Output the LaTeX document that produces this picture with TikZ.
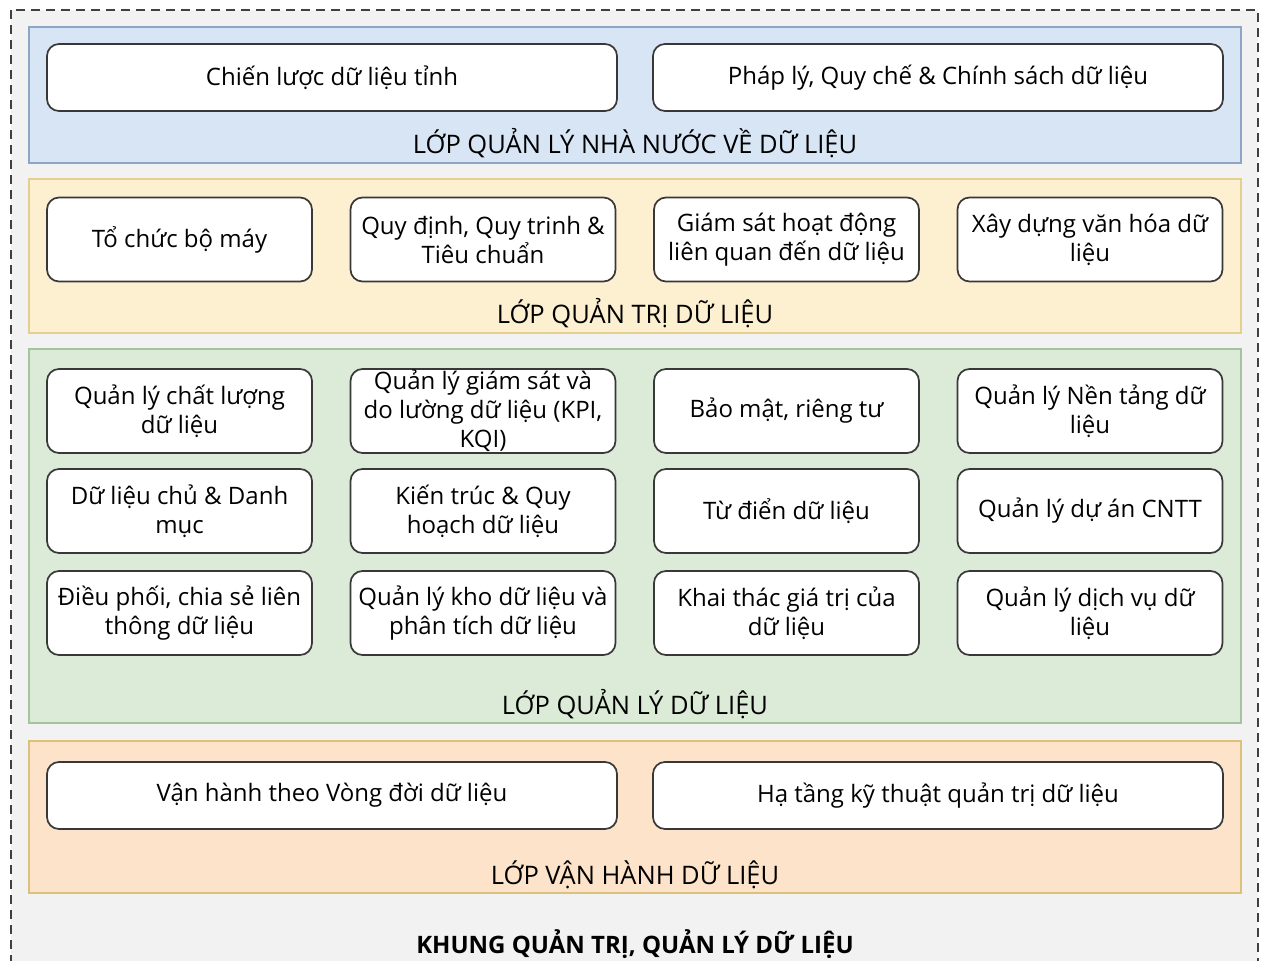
\documentclass[tikz,border=0pt]{standalone}
\usepackage{fontspec}
\setmainfont{Open Sans}
\definecolor{framebg}{HTML}{F2F2F3}
\definecolor{stateFill}{HTML}{D8E5F5}
\definecolor{stateLine}{HTML}{8EA5C4}
\definecolor{govFill}{HTML}{FDF0D0}
\definecolor{govLine}{HTML}{E6CF8E}
\definecolor{mgmtFill}{HTML}{DCEBD8}
\definecolor{mgmtLine}{HTML}{A3C49E}
\definecolor{opsFill}{HTML}{FDE3C9}
\definecolor{opsLine}{HTML}{DCC17A}
\begin{document}
\begin{tikzpicture}[x=1pt, y=-1pt,
    box/.style={draw=black!78, line width=1.7pt, fill=white, rounded corners=12pt,
        align=center, inner sep=0pt, font=\fontsize{24}{29}\selectfont},
    widebox/.style={box, minimum width=570pt, minimum height=67pt},
    cell/.style={box, minimum width=265pt, minimum height=84pt},
    layertitle/.style={font=\fontsize{25.5}{29}\selectfont, inner sep=0pt},
    layer/.style={line width=1.4pt}]
    \useasboundingbox (0,0) rectangle (1267,961);
    \fill[white] (0,0) rectangle (1267,961);
    \begin{scope}
    \clip (0,0) rectangle (1267,961);
    \filldraw[fill=framebg, draw=black!75, dashed, line width=1.8pt,
        dash pattern=on 9pt off 6pt]
        (11,10) rectangle (1258,990);
    \end{scope}
    \filldraw[layer, fill=stateFill, draw=stateLine] (29,27) rectangle (1241,163);
    \filldraw[layer, fill=govFill, draw=govLine] (29,179) rectangle (1241,333);
    \filldraw[layer, fill=mgmtFill, draw=mgmtLine] (29,349) rectangle (1241,723);
    \filldraw[layer, fill=opsFill, draw=opsLine] (29,741) rectangle (1241,893);
    % state layer
    \node[widebox] (strategy) at (332,77.5) {Chiến lược dữ liệu tỉnh};
    \node[widebox] (legal) at (938,77.5) {Pháp lý, Quy chế \& Chính sách dữ liệu};
    \node[layertitle] (stateTitle) at (635,143) {LỚP QUẢN LÝ NHÀ NƯỚC VỀ DỮ LIỆU};
    % governance layer
    \node[cell] (org) at (179.5,239.5) {Tổ chức bộ máy};
    \node[cell] (rules) at (483,239.5) {Quy định, Quy trinh \&\\Tiêu chuẩn};
    \node[cell] (monitor) at (786.5,239.5) {Giám sát hoạt động\\liên quan đến dữ liệu};
    \node[cell] (culture) at (1090,239.5) {Xây dựng văn hóa dữ\\liệu};
    \node[layertitle] (govTitle) at (635,313) {LỚP QUẢN TRỊ DỮ LIỆU};
    % management layer
    \node[cell] (quality) at (179.5,411) {Quản lý chất lượng\\dữ liệu};
    \node[cell] (kpi) at (483,411) {Quản lý giám sát và\\do lường dữ liệu (KPI,\\KQI)};
    \node[cell] (security) at (786.5,411) {Bảo mật, riêng tư};
    \node[cell] (platform) at (1090,411) {Quản lý Nền tảng dữ\\liệu};
    \node[cell] (master) at (179.5,511) {Dữ liệu chủ \& Danh\\mục};
    \node[cell] (arch) at (483,511) {Kiến trúc \& Quy\\hoạch dữ liệu};
    \node[cell] (dict) at (786.5,511) {Từ điển dữ liệu};
    \node[cell] (project) at (1090,511) {Quản lý dự án CNTT};
    \node[cell] (sharing) at (179.5,613) {Điều phối, chia sẻ liên\\thông dữ liệu};
    \node[cell] (warehouse) at (483,613) {Quản lý kho dữ liệu và\\phân tích dữ liệu};
    \node[cell] (value) at (786.5,613) {Khai thác giá trị của\\dữ liệu};
    \node[cell] (service) at (1090,613) {Quản lý dịch vụ dữ\\liệu};
    \node[layertitle] (mgmtTitle) at (635,704) {LỚP QUẢN LÝ DỮ LIỆU};
    % operations layer
    \node[widebox] (lifecycle) at (332,795.5) {Vận hành theo Vòng đời dữ liệu};
    \node[widebox] (infra) at (938,795.5) {Hạ tầng kỹ thuật quản trị dữ liệu};
    \node[layertitle] (opsTitle) at (635,875) {LỚP VẬN HÀNH DỮ LIỆU};
    \node[layertitle, font=\fontsize{24}{29}\selectfont\bfseries] (frameTitle) at (635,944)
        {KHUNG QUẢN TRỊ, QUẢN LÝ DỮ LIỆU};
\end{tikzpicture}
\end{document}
